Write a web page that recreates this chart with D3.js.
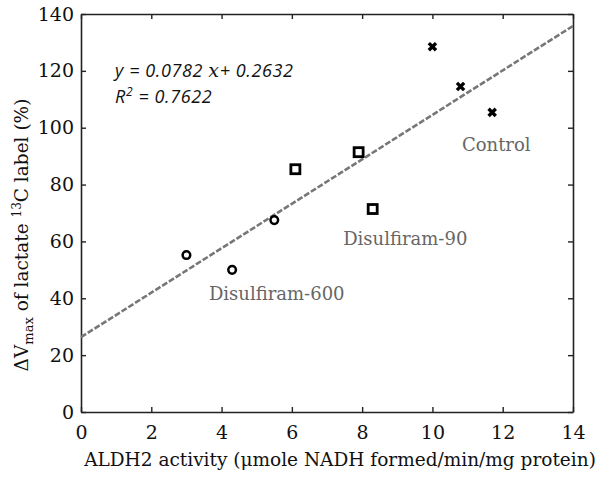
<!DOCTYPE html>
<html>
<head>
<meta charset="utf-8">
<script src="https://cdn.jsdelivr.net/npm/d3@7"></script>
<style>
  body { margin: 0; background: #fff; }
  svg text { font-family: "DejaVu Serif", "Liberation Serif", serif; }
  svg text.eq { font-family: "Open Sans", "DejaVu Sans", sans-serif; font-style: italic; letter-spacing: 0.6px; }
</style>
</head>
<body>
<div id="chart"></div>
<script>
// data
const groups = ["Disulfiram-600", "Disulfiram-90", "Control"];
const groupX = [[3.0, 4.3, 5.5], [6.1, 7.9, 8.3], [10.0, 10.8, 11.7]];
const groupY = [[55.2, 50.0, 67.5], [85.4, 91.4, 71.4], [128.5, 114.5, 105.4]];
const groupLabelPos = [[3.64, 39.4], [7.46, 58.7], [10.84, 91.8]]; // data coords of group labels
const slope = 0.0782, intercept = 0.2632; // fit in fraction units
const xTicks = [0, 2, 4, 6, 8, 10, 12, 14];
const yTicks = [0, 20, 40, 60, 80, 100, 120, 140];

const config = {
  width: 601, height: 478,
  margin: { top: 14, right: 28, bottom: 66, left: 81 }
};
const innerW = config.width - config.margin.left - config.margin.right;
const innerH = config.height - config.margin.top - config.margin.bottom;

const svg = d3.select("#chart").append("svg")
  .attr("width", config.width)
  .attr("height", config.height);

const g = svg.append("g")
  .attr("transform", `translate(${config.margin.left},${config.margin.top})`);

const x = d3.scaleLinear().domain([0, 14]).range([0, innerW]);
const y = d3.scaleLinear().domain([0, 140]).range([innerH, 0]);

// axes with inward ticks on all four sides
const tickLen = 5;
const styleAxis = sel => {
  sel.select(".domain").attr("stroke", "#222").attr("stroke-width", 1.6);
  sel.selectAll(".tick line").attr("stroke", "#222").attr("stroke-width", 1.4);
};

g.append("g").attr("transform", `translate(0,${innerH})`)
  .call(d3.axisBottom(x).tickValues(xTicks).tickSize(-tickLen).tickPadding(14).tickSizeOuter(0))
  .call(styleAxis)
  .selectAll("text").attr("font-size", 19).attr("fill", "#111");

g.append("g")
  .call(d3.axisLeft(y).tickValues(yTicks).tickSize(-tickLen).tickPadding(7).tickSizeOuter(0))
  .call(styleAxis)
  .selectAll("text").attr("font-size", 19).attr("fill", "#111");

g.append("g")
  .call(d3.axisTop(x).tickValues(xTicks).tickSize(-tickLen).tickFormat("").tickSizeOuter(0))
  .call(styleAxis);

g.append("g").attr("transform", `translate(${innerW},0)`)
  .call(d3.axisRight(y).tickValues(yTicks).tickSize(-tickLen).tickFormat("").tickSizeOuter(0))
  .call(styleAxis);

// regression line
g.append("line")
  .attr("x1", x(0)).attr("y1", y(intercept * 100))
  .attr("x2", x(14)).attr("y2", y((intercept + slope * 14) * 100))
  .attr("stroke", "#777")
  .attr("stroke-width", 2.6)
  .attr("stroke-dasharray", "6,2");

// markers
const circles = groupX[0].map((v, i) => ({ x: v, y: groupY[0][i] }));
const squares = groupX[1].map((v, i) => ({ x: v, y: groupY[1][i] }));
const crosses = groupX[2].map((v, i) => ({ x: v, y: groupY[2][i] }));

g.selectAll("circle.pt").data(circles).join("circle")
  .attr("class", "pt")
  .attr("cx", d => x(d.x)).attr("cy", d => y(d.y))
  .attr("r", 3.8)
  .attr("fill", "none").attr("stroke", "#000").attr("stroke-width", 2.5);

g.selectAll("rect.pt").data(squares).join("rect")
  .attr("class", "pt")
  .attr("x", d => x(d.x) - 4.5).attr("y", d => y(d.y) - 4.5)
  .attr("width", 9).attr("height", 9)
  .attr("fill", "none").attr("stroke", "#000").attr("stroke-width", 2.8);

g.selectAll("path.pt").data(crosses).join("path")
  .attr("class", "pt")
  .attr("d", d => {
    const cx = x(d.x), cy = y(d.y), s = 3.6;
    return `M${cx - s},${cy - s}L${cx + s},${cy + s}M${cx - s},${cy + s}L${cx + s},${cy - s}`;
  })
  .attr("stroke", "#000").attr("stroke-width", 3.4);

// group labels
g.selectAll("text.grp").data(groups).join("text")
  .attr("class", "grp")
  .attr("x", (d, i) => x(groupLabelPos[i][0]))
  .attr("y", (d, i) => y(groupLabelPos[i][1]))
  .attr("font-size", 18)
  .attr("fill", "#666")
  .text(d => d);

// equation
const eq = g.append("text")
  .attr("class", "eq")
  .attr("x", 34).attr("y", 63)
  .attr("font-size", 18)
  .attr("fill", "#111");
eq.append("tspan").text(`y = ${slope.toFixed(4)} `);
eq.append("tspan").style("font-family", "'DejaVu Serif', serif").style("font-style", "italic")
  .attr("font-size", 19).text("x");
eq.append("tspan").text(`+ ${intercept.toFixed(4)}`);

const r2 = g.append("text")
  .attr("class", "eq")
  .attr("x", 34).attr("y", 89)
  .attr("font-size", 18)
  .attr("fill", "#111");
r2.append("tspan").text("R");
r2.append("tspan").attr("font-size", 12).attr("dy", -7).text("2");
r2.append("tspan").attr("dy", 7).text(" = 0.7622");

// x axis title
svg.append("text")
  .attr("x", 340).attr("y", 466)
  .attr("text-anchor", "middle")
  .attr("font-size", 18.5)
  .attr("fill", "#111")
  .text("ALDH2 activity (μmole NADH formed/min/mg protein)");

// y axis title
const yt = svg.append("text")
  .attr("transform", "translate(28,235) rotate(-90)")
  .attr("text-anchor", "middle")
  .attr("font-size", 18.5)
  .attr("fill", "#111");
yt.append("tspan").text("ΔV");
yt.append("tspan").attr("font-size", 13).attr("dy", 5).text("max");
yt.append("tspan").attr("dy", -5).text(" of lactate ");
yt.append("tspan").attr("font-size", 12).attr("dy", -7).text("13");
yt.append("tspan").attr("dy", 7).text("C label (%)");
</script>
</body>
</html>
